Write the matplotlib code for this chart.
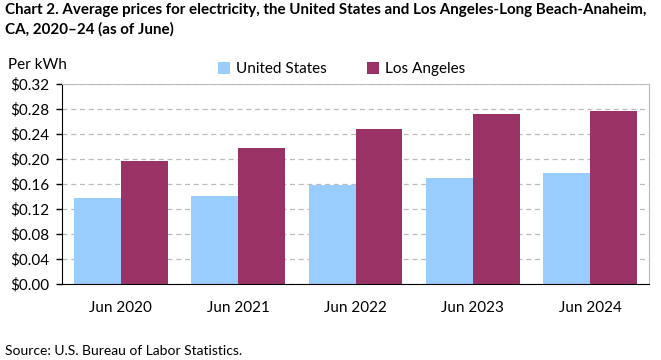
import numpy as np
import matplotlib.pyplot as plt
from matplotlib.ticker import FuncFormatter

plt.rcParams['font.family'] = ['Lato', 'DejaVu Sans']

# Datos
categories = ['Jun 2020', 'Jun 2021', 'Jun 2022', 'Jun 2023', 'Jun 2024']
us_prices = [0.137, 0.141, 0.159, 0.170, 0.178]
la_prices = [0.197, 0.218, 0.248, 0.272, 0.277]
series_names = ['United States', 'Los Angeles']

us_color = '#99CCFF'
la_color = '#993366'

fig = plt.figure(figsize=(6.61, 3.6), dpi=100)
ax = fig.add_axes([62 / 661, 1 - 284 / 360, (649 - 62) / 661, 200 / 360])

x = np.arange(len(categories))
w = 0.4
ax.bar(x - w / 2, us_prices, w, color=us_color, label=series_names[0], zorder=3)
ax.bar(x + w / 2, la_prices, w, color=la_color, label=series_names[1], zorder=3)

ax.set_xlim(-0.5, len(categories) - 0.5)
ax.set_ylim(0, 0.32)
ax.set_yticks(np.arange(0, 0.321, 0.04))
ax.yaxis.set_major_formatter(FuncFormatter(lambda v, p: f'${v:.2f}'))
ax.set_xticks(x)
ax.set_xticklabels(categories)
ax.tick_params(axis='x', length=0, pad=12, labelsize=11)
ax.tick_params(axis='y', length=4.3, width=1, labelsize=11, pad=5)

# Lineas de cuadricula
ax.yaxis.grid(True, color='#BBBBBB', linestyle=(0, (4, 3)), linewidth=0.9, zorder=0)
for s in ['top', 'right']:
    ax.spines[s].set_color('#BBBBBB')
ax.spines['left'].set_color('black')
ax.spines['bottom'].set_color('black')
ax.spines['bottom'].set_zorder(4)

# Titulo y textos
fig.text(5 / 661, 1 - 3 / 360, 'Chart 2. Average prices for electricity, the United States and Los Angeles-Long Beach-Anaheim,\nCA, 2020\u201324 (as of June)',
         ha='left', va='top', fontsize=10.9, fontweight='bold', linespacing=1.4)
fig.text(8 / 661, 1 - 65 / 360, 'Per kWh', ha='left', va='center', fontsize=11)
fig.text(5 / 661, 1 - 351 / 360, 'Source: U.S. Bureau of Labor Statistics.', ha='left', va='center', fontsize=10)

ax.legend(loc='lower center', bbox_to_anchor=(0.476, 1.0), ncol=2, frameon=False,
          fontsize=11, handlelength=0.8, handleheight=0.8, columnspacing=2.6, handletextpad=0.4,
          borderaxespad=0.1)

plt.savefig('out.png', dpi=100)
